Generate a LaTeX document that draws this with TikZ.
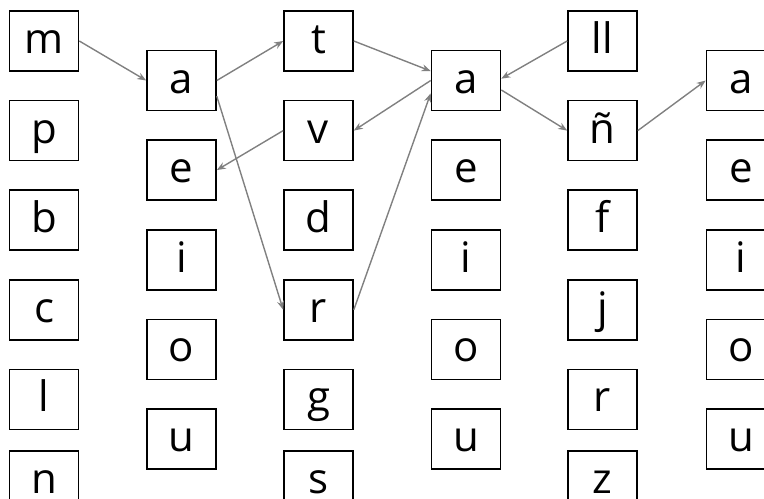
\documentclass[tikz,border=0pt]{standalone}
\usepackage{fontspec}
\setsansfont{Open Sans}
\usetikzlibrary{positioning,arrows.meta}

\begin{document}
\begin{tikzpicture}[x=0.5pt,y=-0.5pt, node distance=14pt,
  every node/.style={font=\sffamily\fontsize{21}{24}\selectfont},
  letter/.style={draw,line width=0.8pt,minimum width=34.5pt,minimum height=30pt,inner sep=0pt,text height=12.5pt,text depth=0pt},
  link/.style={->,draw=black!50,line width=0.7pt},
  >={Stealth[length=4.5pt,width=3.5pt]}]
  \useasboundingbox (0,0) rectangle (764,498);
  % first consonants
  \node[letter] (m) at (44,41) {m};
  \node[letter,below=of m] (p) {p};
  \node[letter,below=of p] (b) {b};
  \node[letter,below=of b] (c) {c};
  \node[letter,below=of c] (l) {l};
  \node[letter,below=10pt of l] (n) {n};
  % first vowels
  \node[letter] (a1) at (181.5,80.5) {a};
  \node[letter,below=of a1] (e1) {e};
  \node[letter,below=of e1] (i1) {i};
  \node[letter,below=of i1] (o1) {o};
  \node[letter,below=of o1] (u1) {u};
  % second consonants
  \node[letter] (t) at (318.5,41) {t};
  \node[letter,below=of t] (v) {v};
  \node[letter,below=of v] (d) {d};
  \node[letter,below=of d] (r1) {r};
  \node[letter,below=of r1] (g) {g};
  \node[letter,below=10pt of g] (s) {s};
  % second vowels
  \node[letter] (a2) at (466,80.5) {a};
  \node[letter,below=of a2] (e2) {e};
  \node[letter,below=of e2] (i2) {i};
  \node[letter,below=of i2] (o2) {o};
  \node[letter,below=of o2] (u2) {u};
  % third consonants
  \node[letter] (ll) at (602.5,41) {ll};
  \node[letter,below=of ll] (enye) {ñ};
  \node[letter,below=of enye] (f) {f};
  \node[letter,below=of f] (j) {j};
  \node[letter,below=of j] (r2) {r};
  \node[letter,below=10pt of r2] (z) {z};
  % third vowels
  \node[letter] (a3) at (741,80.5) {a};
  \node[letter,below=of a3] (e3) {e};
  \node[letter,below=of e3] (i3) {i};
  \node[letter,below=of i3] (o3) {o};
  \node[letter,below=of o3] (u3) {u};
  % paths
  \draw[link] (m.east) -- (a1.west);
  \draw[link] (a1.east) -- (t.west);
  \draw[link] (a1.-24) -- (r1.west);
  \draw[link] (t.east) -- (a2.165);
  \draw[link] (a2.west) -- (v.east);
  \draw[link] (v.west) -- (e1.east);
  \draw[link] (r1.east) -- (a2.200);
  \draw[link] (ll.west) -- (a2.3);
  \draw[link] (a2.-15) -- (enye.west);
  \draw[link] (enye.east) -- (a3.west);
\end{tikzpicture}
\end{document}
